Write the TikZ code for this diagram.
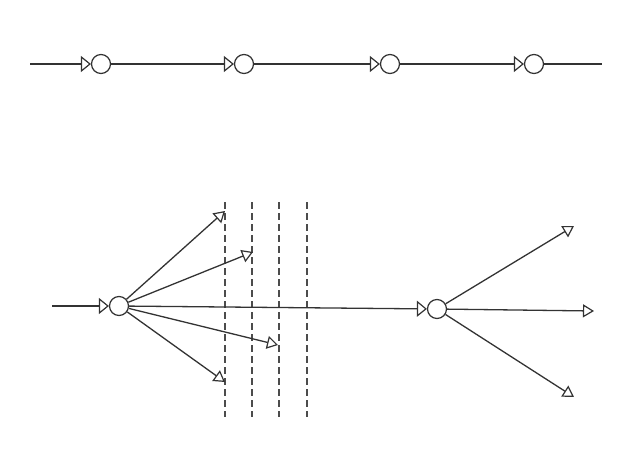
\documentclass[tikz,border=0pt]{standalone}
\usetikzlibrary{arrows.meta}
\begin{document}
\begin{tikzpicture}[x=1pt,y=-1pt,
  ln/.style={draw=black!80, line width=1.3pt},
  arr/.style={ln, -{Triangle[open, length=10pt, width=16pt, line width=1.2pt]}},
  brarr/.style={ln, -{Triangle[open, length=11pt, width=13pt, line width=1.2pt]}},
  junc/.style={circle, draw=black!80, line width=1.2pt, minimum size=19pt, inner sep=0pt, fill=white},
  cut/.style={draw=black!70, line width=1.2pt, dash pattern=on 7pt off 4pt}]
\useasboundingbox (0,0) rectangle (638,450);
% top chain
\coordinate (t0) at (30,64);
\coordinate (t5) at (602,64);
\node[junc] (c1) at (101,64) {};
\node[junc] (c2) at (244,64) {};
\node[junc] (c3) at (390,64) {};
\node[junc] (c4) at (534,64) {};
\draw[arr] (t0) -- (c1);
\draw[arr] (c1) -- (c2);
\draw[arr] (c2) -- (c3);
\draw[arr] (c3) -- (c4);
\draw[ln] (c4) -- (t5);
% dashed cut lines
\coordinate (d1a) at (225,202); \coordinate (d1b) at (225,417);
\coordinate (d2a) at (252,202); \coordinate (d2b) at (252,417);
\coordinate (d3a) at (279,202); \coordinate (d3b) at (279,417);
\coordinate (d4a) at (307,202); \coordinate (d4b) at (307,417);
\draw[cut] (d1a) -- (d1b);
\draw[cut] (d2a) -- (d2b);
\draw[cut] (d3a) -- (d3b);
\draw[cut] (d4a) -- (d4b);
% bottom network
\coordinate (b0) at (52,306);
\node[junc] (L) at (119,306) {};
\node[junc] (R) at (437,309) {};
\draw[arr] (b0) -- (L);
\draw[arr] (L) -- (R);
\coordinate (l1) at (225,211);
\coordinate (l2) at (253,252);
\coordinate (l3) at (278,345);
\coordinate (l4) at (225,382);
\draw[brarr] (L) -- (l1);
\draw[brarr] (L) -- (l2);
\draw[brarr] (L) -- (l3);
\draw[brarr] (L) -- (l4);
\coordinate (r1) at (574,226);
\coordinate (r2) at (594,311);
\coordinate (r3) at (574,397);
\draw[brarr] (R) -- (r1);
\draw[brarr] (R) -- (r2);
\draw[brarr] (R) -- (r3);
\end{tikzpicture}
\end{document}
